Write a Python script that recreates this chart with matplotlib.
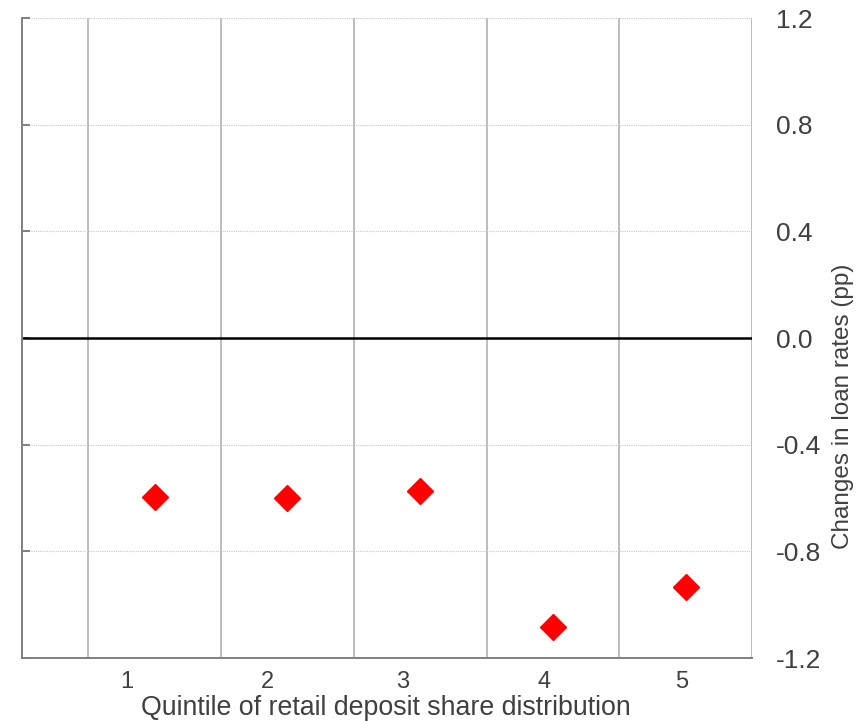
import numpy as np
import matplotlib
matplotlib.use('Agg')
import matplotlib.pyplot as plt

plt.rcParams['font.family'] = ['Liberation Sans', 'DejaVu Sans']
plt.rcParams['axes.unicode_minus'] = False

# data
quintiles = [1, 2, 3, 4, 5]
quintile_labels = ['1', '2', '3', '4', '5']
rate_change = [-0.596, -0.600, -0.574, -1.084, -0.934]
y_ticks = [-1.2, -0.8, -0.4, 0.0, 0.4, 0.8, 1.2]
y_tick_labels = ['-1.2', '-0.8', '-0.4', '0.0', '0.4', '0.8', '1.2']

# label positions in the original are drifted a little to the left
label_shift = [-0.21, -0.15, -0.13, -0.07, -0.03]

W, H = 867, 721
fig = plt.figure(figsize=(W / 100, H / 100), dpi=100)
ax = fig.add_axes([22 / W, 1 - 658 / H, 730 / W, 640 / H])

ax.set_xlim(0, 5.5)
ax.set_ylim(-1.2, 1.2)

# category separators
for xb in np.arange(0.5, 5.6, 1.0):
    ax.axvline(xb, color='#bdbdbd', lw=1.4, zorder=1)

# dotted horizontal grid
for yt in y_ticks:
    if yt != 0:
        ax.axhline(yt, color='#c8c8c8', lw=0.8, ls=(0, (1, 1)), zorder=1)
ax.axhline(0, color='black', lw=1.8, zorder=2)

ax.plot(quintiles, rate_change, ls='none', marker='D', ms=13,
        color='#ff0000', mec='#ff0000', zorder=3)

for s in ['top', 'right']:
    ax.spines[s].set_visible(False)
for s in ['left', 'bottom']:
    ax.spines[s].set_color('#808080')
    ax.spines[s].set_linewidth(1.4)

# y ticks: marks inward on the left, labels on the right
ax.set_yticks(y_ticks)
ax.set_yticklabels(y_tick_labels)
ax.tick_params(axis='y', which='both', direction='in', length=6, width=1.4,
               color='#808080', left=True, right=False,
               labelleft=False, labelright=True, labelsize=19,
               labelcolor='#404040', pad=17)
fig.text(843 / W, 1 - 406 / H, 'Changes in loan rates (pp)', rotation=90,
         ha='center', va='center', fontsize=17.5, color='#404040')

ax.set_xticks([q + d for q, d in zip(quintiles, label_shift)])
ax.set_xticklabels(quintile_labels)
ax.tick_params(axis='x', length=0, labelsize=17, labelcolor='#404040', pad=9)
fig.text(386 / W, 1 - 708 / H, 'Quintile of retail deposit share distribution',
         ha='center', va='center', fontsize=19.3, color='#404040')

plt.savefig('out.png', dpi=100)
